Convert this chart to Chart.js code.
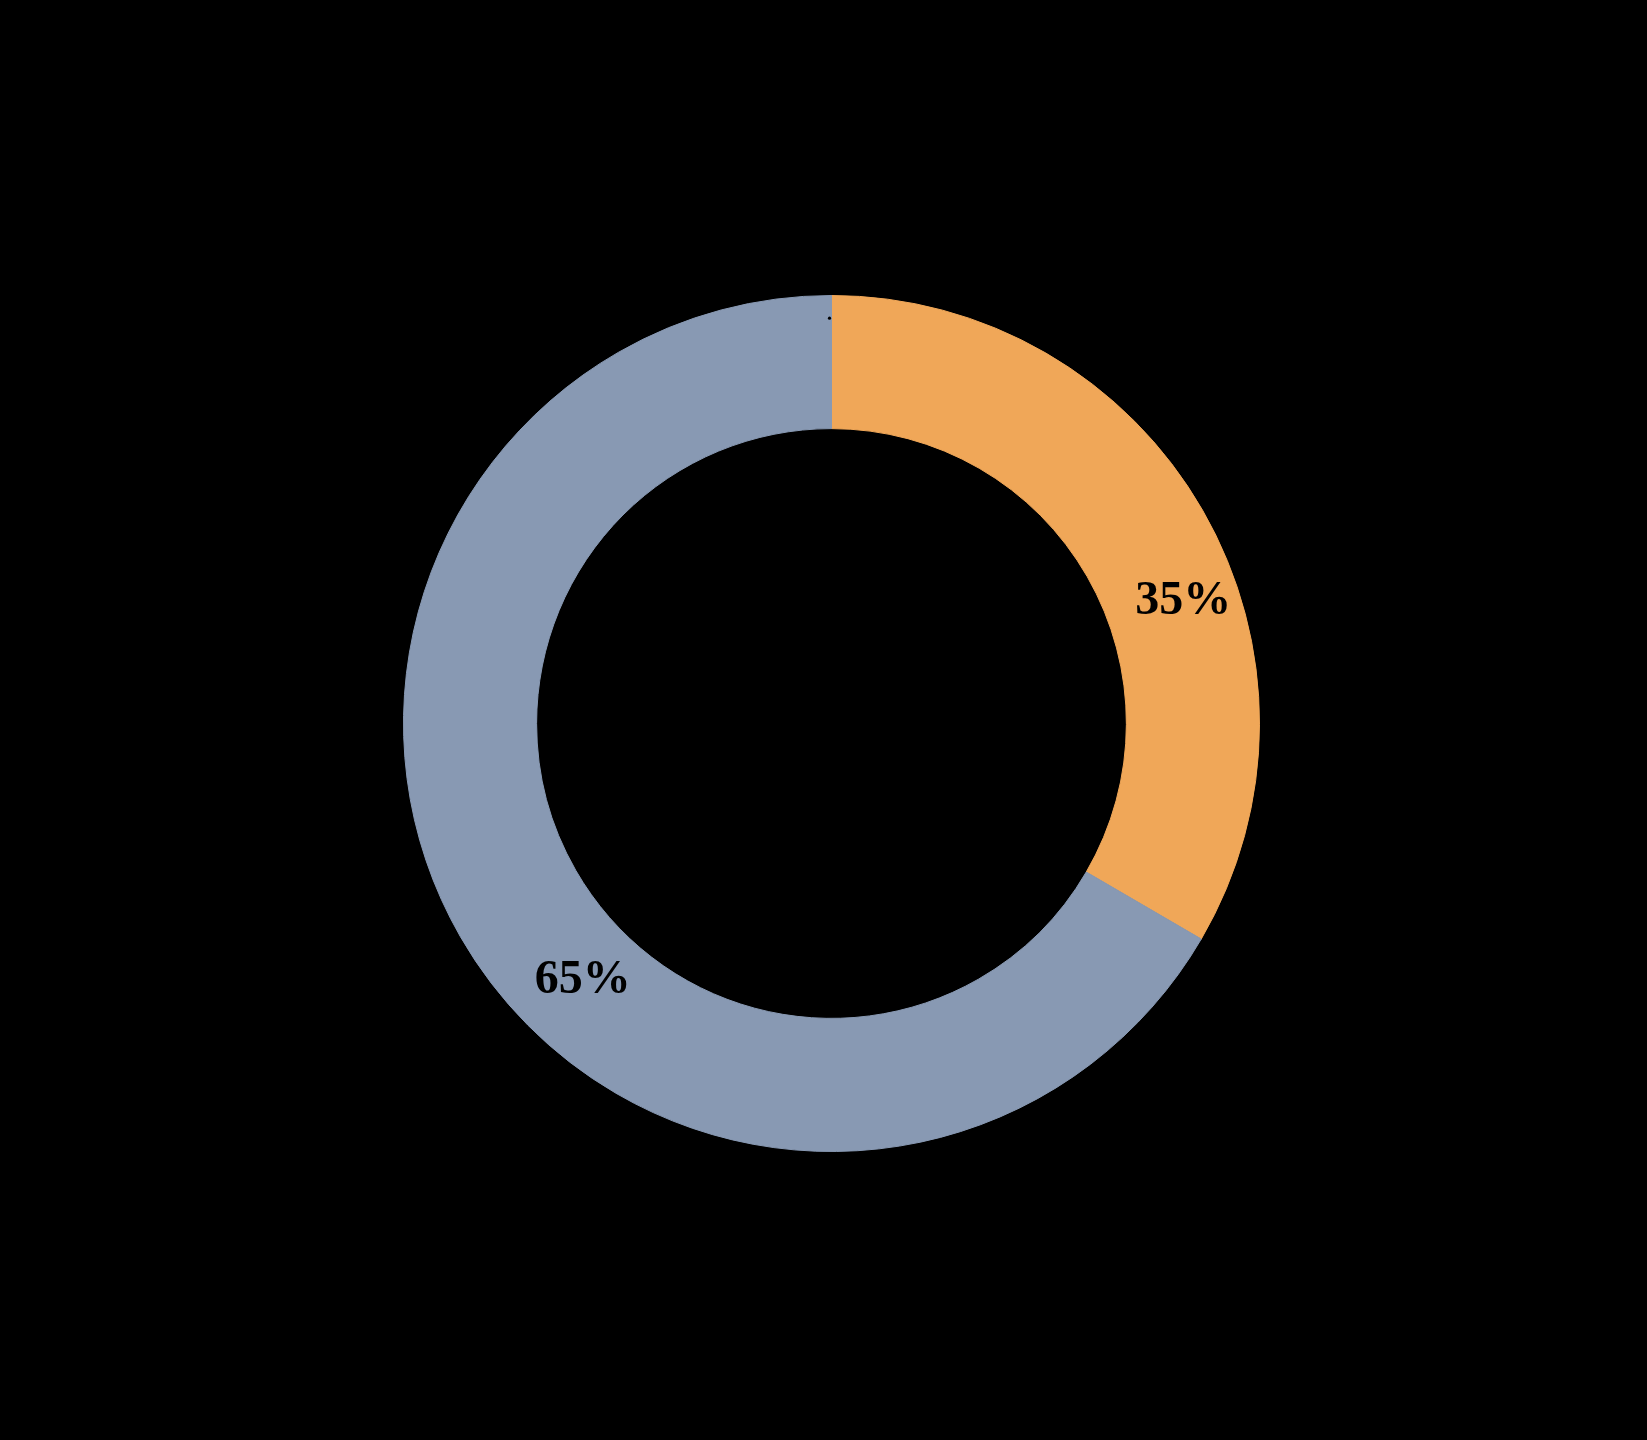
<!DOCTYPE html>
<html>
<head>
<meta charset="utf-8">
<style>
  html, body { margin: 0; padding: 0; background: #000; }
  #chart { display: block; }
</style>
<script src="https://cdn.jsdelivr.net/npm/chart.js@4.4.1/dist/chart.umd.min.js"></script>
</head>
<body>
<canvas id="chart" width="1647" height="1440"></canvas>
<script>
const categories = ['Série 1', 'Série 2', 'Série 3'];
const values = [33.4, 66.6, 0];
const valueLabels = ['35%', '65%', '.'];
const colors = ['#F0A758', '#8899B3', '#8899B3'];

// where each label sits inside its arc: share of the arc's angle, share of ring thickness
const labelPlacement = [
    { angle: 0.585, radial: 0.59 },
    { angle: 0.435, radial: 0.45 },
    { angle: 0.5, radial: 0.83 }
];

const arcLabels = {
    id: 'arcLabels',
    afterDatasetsDraw(chart) {
        const ctx = chart.ctx;
        const meta = chart.getDatasetMeta(0);
        meta.data.forEach((arc, i) => {
            const p = labelPlacement[i];
            const a = arc.startAngle + (arc.endAngle - arc.startAngle) * p.angle;
            const r = arc.innerRadius + (arc.outerRadius - arc.innerRadius) * p.radial;
            const x = arc.x + Math.cos(a) * r;
            const y = arc.y + Math.sin(a) * r;
            ctx.save();
            ctx.fillStyle = '#000';
            if (valueLabels[i] === '.') {
                ctx.beginPath();
                ctx.arc(x - 2, y, 1.6, 0, Math.PI * 2);
                ctx.fill();
            } else {
                ctx.font = 'bold 48px "Liberation Serif", "DejaVu Serif", serif';
                ctx.textAlign = 'center';
                ctx.textBaseline = 'middle';
                ctx.fillText(valueLabels[i], x, y + 4);
            }
            ctx.restore();
        });
    }
};

new Chart(document.getElementById('chart'), {
    type: 'doughnut',
    data: {
        labels: categories,
        datasets: [{
            data: values,
            backgroundColor: colors,
            borderColor: colors,
            borderWidth: [1, 1, 0]
        }]
    },
    options: {
        responsive: false,
        animation: false,
        cutout: '68.9%',
        layout: {
            padding: { left: 403, right: 387, top: 295, bottom: 288 }
        },
        plugins: {
            legend: { display: false },
            tooltip: { enabled: false }
        }
    },
    plugins: [arcLabels]
});
</script>
</body>
</html>
